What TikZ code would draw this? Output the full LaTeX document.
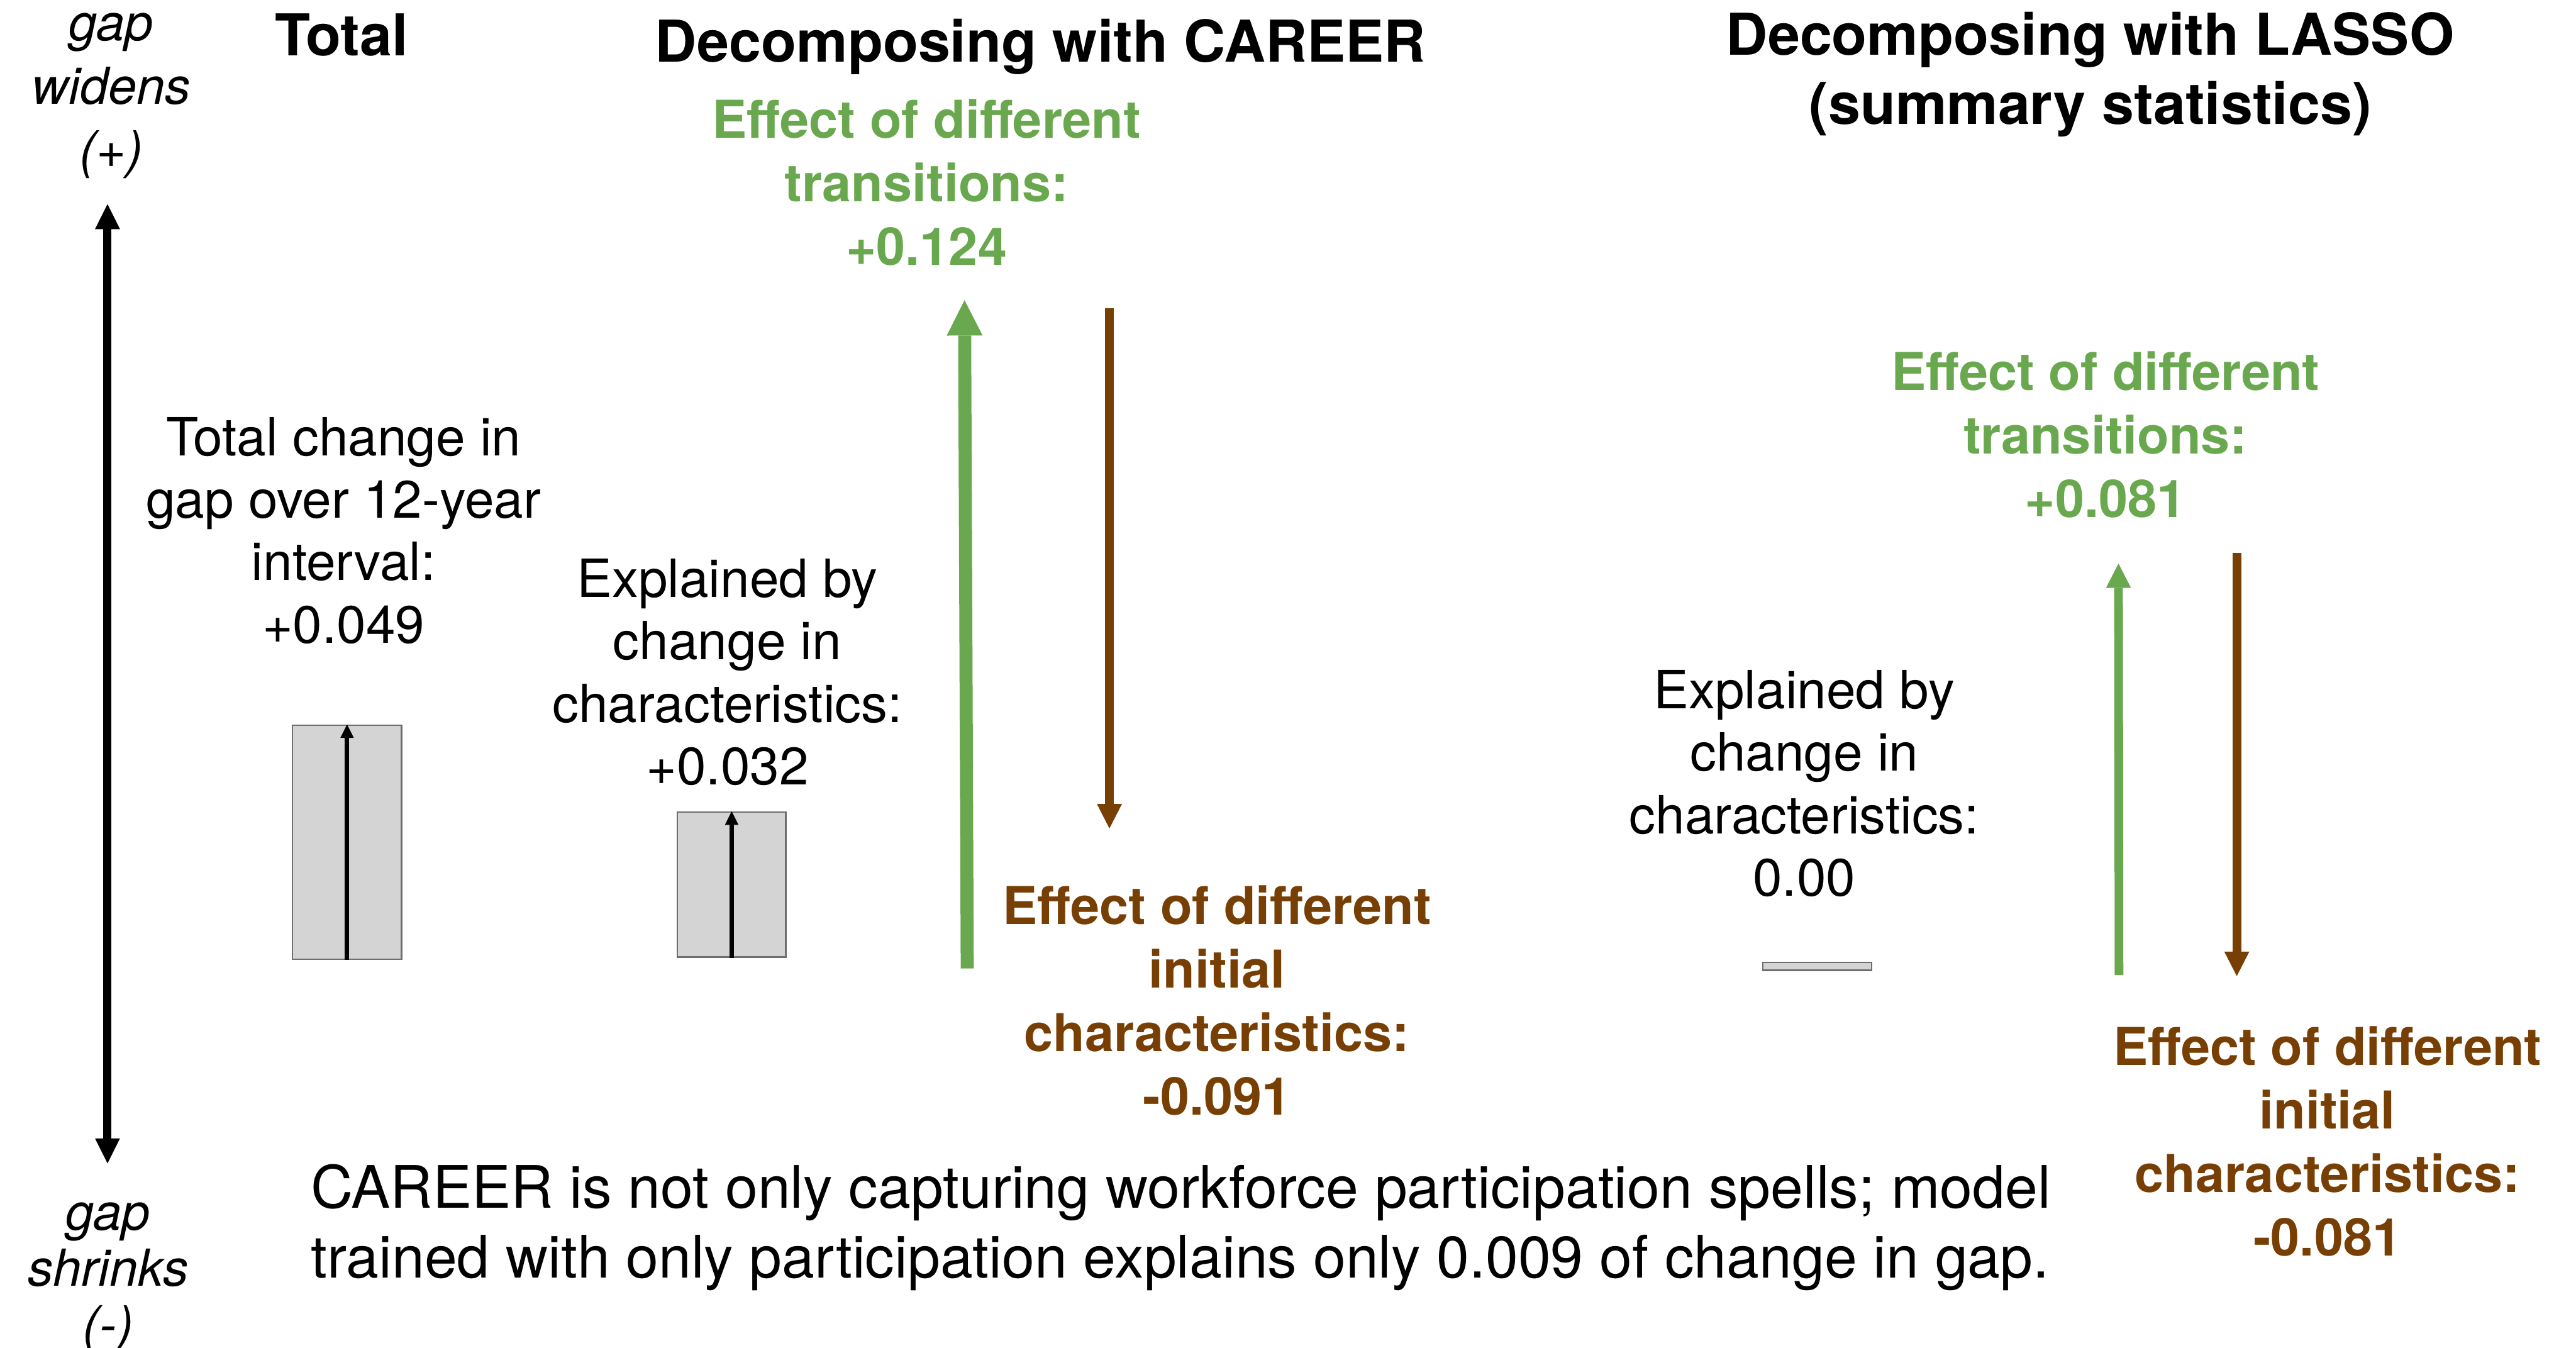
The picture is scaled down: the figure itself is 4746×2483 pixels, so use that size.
\documentclass[tikz,border=0pt]{standalone}
\usepackage{fontspec}
\setmainfont{TeX Gyre Heros}
\usetikzlibrary{arrows.meta}

\definecolor{gaingreen}{HTML}{6AA84F}
\definecolor{lossbrown}{HTML}{783F04}
\definecolor{barfill}{HTML}{D4D4D4}
\definecolor{barline}{HTML}{6E6E6E}

% font size helper: size and line spacing in pt
\newcommand\setsz[2]{\fontsize{#1pt}{#2pt}\selectfont}

\tikzset{
  body/.style={inner sep=0pt, anchor=north, align=center, font=\setsz{27.6}{32.7}},
  sidenote/.style={inner sep=0pt, anchor=north, align=center, font=\itshape\setsz{26.7}{33.2}},
  title/.style={inner sep=0pt, anchor=north, align=center, font=\bfseries\setsz{30.2}{36.4}},
  effect/.style={inner sep=0pt, anchor=north, align=center, font=\bfseries\setsz{27.3}{33.3}},
  note/.style={inner sep=0pt, anchor=north west, align=left, font=\setsz{30.7}{36.4}},
  barbox/.style={draw=barline, fill=barfill, line width=0.85pt, inner sep=0pt},
  % arrow tips
  bigtip/.style={-{Triangle[width=18.8pt,length=18.5pt,line width=0pt]}},
  midtip/.style={-{Triangle[width=13.1pt,length=12.8pt,line width=0pt]}},
  smalltip/.style={-{Triangle[width=7.1pt,length=7.1pt,line width=0pt]}},
  axisarrow/.style={line width=4.27pt, black,
    {Triangle[width=13.1pt,length=13.1pt,line width=0pt]}-{Triangle[width=13.1pt,length=13.1pt,line width=0pt]}},
  barup/.style={smalltip, line width=2.28pt, black},
  greenbig/.style={bigtip, line width=6.83pt, gaingreen},
  greenmid/.style={midtip, line width=4.55pt, gaingreen},
  brownmid/.style={midtip, line width=4.55pt, lossbrown},
}

\begin{document}
\begin{tikzpicture}[x=0.01cm, y=-0.01cm]
  \useasboundingbox (0,0) rectangle (4746,2483);

  % vertical axis: gap widens / gap shrinks
  \coordinate (axhi) at (198,376);
  \coordinate (axlo) at (198,2143);
  \draw[axisarrow] (axlo) -- (axhi);
  \node[sidenote] (widens) at (205,24) {gap\\widens\\(+)};
  \node[sidenote, font=\itshape\setsz{26.7}{29.6}] (shrinks) at (199,2214) {gap\\shrinks\\(-)};

  % column titles
  \node[title] (ttotal) at (629,25) {Total};
  \node[title] (tcareer) at (1917,34) {Decomposing with CAREER};
  \node[title] (tlasso) at (3851,21) {Decomposing with LASSO\\(summary statistics)};

  % total change
  \node[body] (totaltxt) at (633,768) {Total change in\\gap over 12-year\\interval:\\+0.049};
  \node[barbox, minimum width=2.01cm, minimum height=4.31cm] (totbar) at (639.5,1551.5) {};
  \draw[barup] (totbar.south) -- (totbar.north);

  % CAREER decomposition
  \node[body] (cexpl) at (1340,1029) {Explained by\\change in\\characteristics:\\+0.032};
  \node[barbox, minimum width=2.0cm, minimum height=2.67cm] (cbar) at (1348,1629.5) {};
  \draw[barup] (cbar.south) -- (cbar.north);

  \node[effect, text=gaingreen] (ctrans) at (1707,182) {Effect of different\\transitions:\\+0.124};
  \coordinate (cgreenlo) at (1782,1784);
  \coordinate (cgreenhi) at (1777,553);
  \draw[greenbig] (cgreenlo) -- (cgreenhi);

  \coordinate (cbrownhi) at (2044,568);
  \coordinate (cbrownlo) at (2044,1526);
  \draw[brownmid] (cbrownhi) -- (cbrownlo);
  \node[effect, text=lossbrown] (cinit) at (2242,1630) {Effect of different\\initial\\characteristics:\\-0.091};

  % LASSO decomposition
  \node[body] (lexpl) at (3324,1234) {Explained by\\change in\\characteristics:\\0.00};
  \node[barbox, minimum width=2.0cm, minimum height=0.14cm] (lbar) at (3348,1780) {};

  \node[effect, text=gaingreen] (ltrans) at (3879,647) {Effect of different\\transitions:\\+0.081};
  \coordinate (lgreenlo) at (3904,1796);
  \coordinate (lgreenhi) at (3903,1038);
  \draw[greenmid] (lgreenlo) -- (lgreenhi);

  \coordinate (lbrownhi) at (4121,1019);
  \coordinate (lbrownlo) at (4121,1798);
  \draw[brownmid] (lbrownhi) -- (lbrownlo);
  \node[effect, text=lossbrown] (linit) at (4288,1890) {Effect of different\\initial\\characteristics:\\-0.081};

  % closing remark
  \node[note] (remark) at (572,2144) {CAREER is not only capturing workforce participation spells; model\\trained with only participation explains only 0.009 of change in gap.};
\end{tikzpicture}
\end{document}
